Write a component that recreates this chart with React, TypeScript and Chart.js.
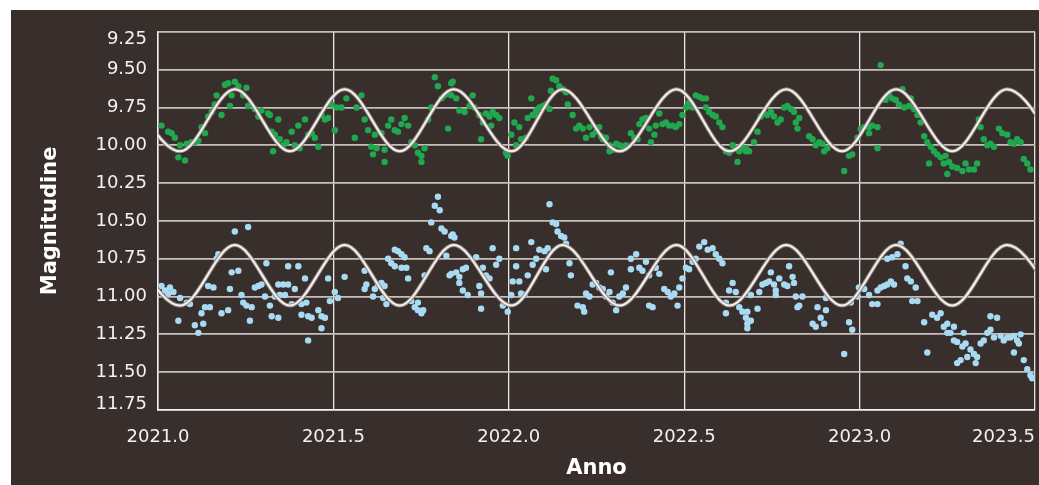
import React, { useEffect, useRef } from 'react';
import { Chart, registerables } from 'chart.js';

Chart.register(...registerables);

const xTickValues = [2021.0, 2021.5, 2022.0, 2022.5, 2023.0, 2023.5];
const yTickValues = [9.25, 9.5, 9.75, 10.0, 10.25, 10.5, 10.75, 11.0, 11.25, 11.5, 11.75];

const waveYear = [2020.906, 2021.063, 2021.219, 2021.376, 2021.532, 2021.689, 2021.843, 2022.008, 2022.153,
  2022.316, 2022.478, 2022.629, 2022.791, 2022.950, 2023.104, 2023.264, 2023.420, 2023.577];
const greenWave = [9.63, 10.04, 9.63, 10.04, 9.63, 10.04, 9.63, 10.04, 9.63, 10.04, 9.63, 10.04, 9.63, 10.04, 9.63, 10.04, 9.63, 10.04];
const blueWave = [10.66, 11.06, 10.66, 11.06, 10.66, 11.06, 10.66, 11.06, 10.66, 11.06, 10.66, 11.06, 10.66, 11.06, 10.66, 11.06, 10.66, 11.06];

const greenYear = [
  2021.010, 2021.029, 2021.039, 2021.048, 2021.063, 2021.082, 2021.096, 2021.105, 2021.115, 2021.058,
  2021.077, 2021.124, 2021.134, 2021.143, 2021.153, 2021.162, 2021.167, 2021.181, 2021.191, 2021.200,
  2021.219, 2021.229, 2021.252, 2021.210, 2021.205, 2021.243, 2021.257, 2021.276, 2021.286, 2021.295,
  2021.314, 2021.319, 2021.343, 2021.324, 2021.333, 2021.347, 2021.357, 2021.366, 2021.381, 2021.390,
  2021.404, 2021.328, 2021.400, 2021.419, 2021.428, 2021.438, 2021.447, 2021.457, 2021.466, 2021.476,
  2021.485, 2021.494, 2021.509, 2021.523, 2021.504, 2021.537, 2021.561, 2021.566, 2021.580, 2021.589,
  2021.599, 2021.618, 2021.637, 2021.608, 2021.623, 2021.646, 2021.613, 2021.646, 2021.656, 2021.665,
  2021.675, 2021.684, 2021.694, 2021.703, 2021.713, 2021.722, 2021.732, 2021.741, 2021.751, 2021.760,
  2021.751, 2021.770, 2021.779, 2021.789, 2021.798, 2021.808, 2021.817, 2021.827, 2021.836, 2021.827,
  2021.840, 2021.836, 2021.850, 2021.859, 2021.874, 2021.888, 2021.897, 2021.902, 2021.916, 2021.926,
  2021.935, 2021.945, 2021.954, 2021.964, 2021.973, 2021.950, 2021.921, 2021.992, 2021.997, 2022.007,
  2022.016, 2022.030, 2022.021, 2022.035, 2022.049, 2022.054, 2022.064, 2022.068, 2022.078, 2022.087,
  2022.097, 2022.106, 2022.116, 2022.083, 2022.120, 2022.125, 2022.135, 2022.144, 2022.154, 2022.163,
  2022.168, 2022.182, 2022.192, 2022.201, 2022.211, 2022.220, 2022.230, 2022.239, 2022.249, 2022.258,
  2022.263, 2022.268, 2022.277, 2022.287, 2022.296, 2022.306, 2022.315, 2022.325, 2022.334, 2022.348,
  2022.358, 2022.367, 2022.372, 2022.381, 2022.391, 2022.400, 2022.405, 2022.415, 2022.419, 2022.429,
  2022.438, 2022.448, 2022.457, 2022.467, 2022.476, 2022.486, 2022.495, 2022.505, 2022.514, 2022.524,
  2022.533, 2022.543, 2022.552, 2022.562, 2022.562, 2022.571, 2022.581, 2022.590, 2022.600, 2022.609,
  2022.619, 2022.628, 2022.638, 2022.647, 2022.657, 2022.666, 2022.676, 2022.652, 2022.287,
  2022.676, 2022.685, 2022.699, 2022.709, 2022.718, 2022.728, 2022.737, 2022.747, 2022.756, 2022.766,
  2022.775, 2022.785, 2022.794, 2022.804, 2022.813, 2022.818, 2022.828, 2022.823, 2022.856, 2022.866,
  2022.875, 2022.885, 2022.894, 2022.899, 2022.908, 2022.956, 2022.970, 2022.979, 2022.994, 2023.003,
  2023.013, 2023.027, 2023.036, 2023.051, 2023.027, 2023.051, 2023.060, 2023.074, 2023.084, 2023.093,
  2023.103, 2023.112, 2023.122, 2023.127, 2023.141, 2023.146, 2023.155, 2023.165, 2023.174, 2023.184,
  2023.193, 2023.203, 2023.212, 2023.221, 2023.231, 2023.245, 2023.240, 2023.255, 2023.264, 2023.278,
  2023.293, 2023.302, 2023.312, 2023.326, 2023.335, 2023.250, 2023.198, 2023.340, 2023.345, 2023.354,
  2023.364, 2023.373, 2023.383, 2023.397, 2023.407, 2023.421, 2023.430, 2023.440, 2023.449, 2023.459,
  2023.468, 2023.478, 2023.487,
];
const greenMag = [
  9.87, 9.91, 9.92, 9.95, 10.00, 9.99, 9.98, 9.98, 9.97, 10.08,
  10.10, 9.88, 9.92, 9.81, 9.78, 9.73, 9.67, 9.80, 9.60, 9.59,
  9.58, 9.61, 9.62, 9.67, 9.74, 9.67, 9.74, 9.76, 9.81, 9.77,
  9.79, 9.80, 9.83, 9.91, 9.93, 9.96, 10.00, 9.98, 9.91, 10.00,
  10.02, 10.04, 9.87, 9.83, 9.93, 9.92, 9.95, 10.01, 9.80, 9.83,
  9.82, 9.73, 9.75, 9.75, 9.90, 9.69, 9.95, 9.75, 9.67, 9.83,
  9.90, 9.93, 9.92, 10.01, 10.02, 10.03, 10.06, 10.11, 9.87, 9.83,
  9.90, 9.91, 9.86, 9.82, 9.87, 9.98, 10.00, 10.05, 10.07, 10.02,
  10.11, 9.83, 9.75, 9.55, 9.61, 9.69, 9.67, 9.66, 9.59, 9.89,
  9.58, 9.67, 9.69, 9.77, 9.78, 9.74, 9.67, 9.75, 9.80, 9.85,
  9.79, 9.81, 9.78, 9.80, 9.82, 9.87, 9.96, 10.05, 10.07, 9.93,
  9.85, 9.88, 10.00, 9.96, 9.95, 9.82, 9.69, 9.80, 9.77, 9.75,
  9.74, 9.73, 9.76, 9.81, 9.64, 9.56, 9.57, 9.61, 9.63, 9.65,
  9.73, 9.80, 9.89, 9.87, 9.89, 9.95, 9.88, 9.93, 9.91, 9.88,
  9.94, 9.96, 9.95, 10.00, 10.03, 9.99, 10.00, 10.01, 10.00, 9.92,
  9.95, 9.96, 9.86, 9.83, 9.82, 9.89, 9.98, 9.93, 9.87, 9.79,
  9.86, 9.85, 9.87, 9.87, 9.88, 9.86, 9.80, 9.75, 9.72, 9.75,
  9.67, 9.68, 9.69, 9.69, 9.75, 9.78, 9.80, 9.81, 9.85, 9.88,
  10.04, 10.05, 10.00, 10.02, 10.04, 10.02, 10.04, 10.11, 10.04,
  10.02, 10.04, 9.98, 9.91, 9.81, 9.79, 9.80, 9.78, 9.81, 9.85,
  9.83, 9.75, 9.74, 9.76, 9.78, 9.85, 9.82, 9.89, 9.94, 9.96,
  10.00, 9.98, 9.99, 10.04, 10.02, 10.17, 10.07, 10.06, 9.95, 9.89,
  9.88, 9.88, 9.87, 9.88, 9.92, 10.02, 9.47, 9.70, 9.67, 9.69,
  9.70, 9.73, 9.63, 9.75, 9.74, 9.69, 9.76, 9.80, 9.85, 9.94,
  9.98, 10.01, 10.04, 10.06, 10.08, 10.07, 10.12, 10.11, 10.14, 10.15,
  10.17, 10.12, 10.16, 10.16, 10.12, 10.19, 10.12, 9.83, 9.88, 9.96,
  10.00, 9.99, 10.01, 9.89, 9.92, 9.93, 9.98, 9.99, 9.96, 9.98,
  10.09, 10.12, 10.16,
];

const blueYear = [
  2021.010, 2021.020, 2021.034, 2021.044, 2021.029, 2021.063, 2021.082, 2021.091, 2021.058, 2021.105,
  2021.115, 2021.129, 2021.124, 2021.134, 2021.148, 2021.143, 2021.158, 2021.167, 2021.172, 2021.181,
  2021.200, 2021.205, 2021.210, 2021.229, 2021.219, 2021.257, 2021.238, 2021.243, 2021.252, 2021.267,
  2021.262, 2021.276, 2021.286, 2021.295, 2021.309, 2021.305, 2021.319, 2021.324, 2021.343, 2021.333,
  2021.347, 2021.362, 2021.343, 2021.357, 2021.371, 2021.371, 2021.400, 2021.381, 2021.390, 2021.409,
  2021.419, 2021.423, 2021.409, 2021.428, 2021.438, 2021.457, 2021.466, 2021.476, 2021.466, 2021.428,
  2021.485, 2021.490, 2021.504, 2021.513, 2021.532, 2021.589, 2021.594, 2021.589, 2021.613, 2021.618,
  2021.627, 2021.637, 2021.646, 2021.642, 2021.651, 2021.656, 2021.665, 2021.675, 2021.684, 2021.694,
  2021.703, 2021.675, 2021.708, 2021.694, 2021.713, 2021.722, 2021.732, 2021.741, 2021.751, 2021.741,
  2021.756, 2021.760, 2021.765, 2021.774, 2021.779, 2021.789, 2021.798, 2021.803, 2021.808, 2021.817,
  2021.822, 2021.836, 2021.831,
  2021.840, 2021.845, 2021.836, 2021.850, 2021.859, 2021.869, 2021.878, 2021.859, 2021.869, 2021.883,
  2021.907, 2021.916, 2021.921, 2021.926, 2021.921, 2021.935, 2021.945, 2021.954, 2021.964, 2021.973,
  2021.983, 2021.997, 2022.007, 2022.011, 2022.021, 2022.021, 2022.030, 2022.035, 2022.045, 2022.054,
  2022.064, 2022.068, 2022.078, 2022.087, 2022.102, 2022.106, 2022.111, 2022.116, 2022.125, 2022.135,
  2022.139, 2022.149, 2022.158, 2022.163, 2022.173, 2022.177, 2022.196, 2022.211, 2022.215, 2022.220,
  2022.230, 2022.239, 2022.249, 2022.258, 2022.268, 2022.277, 2022.287, 2022.291, 2022.296, 2022.306,
  2022.315, 2022.325, 2022.334, 2022.348, 2022.348, 2022.363, 2022.372, 2022.381, 2022.391, 2022.400,
  2022.400, 2022.410, 2022.419, 2022.429, 2022.443, 2022.453, 2022.462, 2022.472, 2022.481, 2022.486,
  2022.495, 2022.505, 2022.514, 2022.524, 2022.533, 2022.543, 2022.557, 2022.567, 2022.581, 2022.590,
  2022.600, 2022.609, 2022.619, 2022.628, 2022.638, 2022.647, 2022.657, 2022.666, 2022.676, 2022.680,
  2022.619,
  2022.680, 2022.690, 2022.680, 2022.690, 2022.709, 2022.714, 2022.723, 2022.733, 2022.742, 2022.747,
  2022.756, 2022.761, 2022.771, 2022.761, 2022.785, 2022.794, 2022.799, 2022.809, 2022.813, 2022.818,
  2022.828, 2022.837, 2022.823, 2022.866, 2022.875, 2022.880, 2022.889, 2022.899, 2022.904, 2022.904,
  2022.956, 2022.970, 2022.979, 2022.975, 2022.994, 2022.998, 2023.013, 2023.027, 2023.036, 2023.051,
  2023.051, 2023.060, 2023.070, 2023.079, 2023.089, 2023.098, 2023.079, 2023.093, 2023.108, 2023.117,
  2023.131, 2023.136, 2023.146, 2023.160, 2023.150, 2023.165, 2023.184, 2023.193, 2023.207, 2023.221,
  2023.231, 2023.240, 2023.250, 2023.259, 2023.269, 2023.278, 2023.293, 2023.302, 2023.316, 2023.326,
  2023.288, 2023.278, 2023.307, 2023.331, 2023.335, 2023.345, 2023.354, 2023.364, 2023.373, 2023.383,
  2023.373, 2023.392, 2023.402, 2023.411, 2023.421, 2023.430, 2023.440, 2023.449, 2023.454, 2023.459,
  2023.440, 2023.468, 2023.478, 2023.487, 2023.492, 2023.269, 2023.250, 2023.297,
];
const blueMag = [
  10.93, 10.96, 10.94, 10.97, 10.98, 11.01, 11.04, 11.05, 11.16, 11.19,
  11.24, 11.18, 11.11, 11.07, 11.07, 10.93, 10.94, 10.75, 10.72, 11.11,
  11.09, 10.95, 10.84, 10.83, 10.57, 10.54, 10.99, 11.04, 11.06, 11.07,
  11.16, 10.94, 10.93, 10.92, 10.78, 11.00, 11.06, 11.13, 11.14, 11.00,
  10.99, 10.99, 10.92, 10.92, 10.92, 10.80, 10.80, 11.05, 10.95, 11.05,
  10.88, 11.04, 11.12, 11.13, 11.14, 11.09, 11.13, 11.14, 11.21, 11.29,
  10.88, 11.03, 10.97, 11.01, 10.87, 10.83, 10.92, 10.95, 11.00, 10.95,
  10.92, 10.91, 10.93, 11.01, 11.05, 10.75, 10.78, 10.80, 10.70, 10.72,
  10.74, 10.69, 10.81, 10.81, 10.88, 11.03, 11.07, 11.09, 11.11, 11.04,
  11.09, 10.86, 10.68, 10.70, 10.51, 10.40, 10.34, 10.43, 10.55, 10.57,
  10.73, 10.60, 10.86,
  10.59, 10.61, 10.85, 10.84, 10.87, 10.82, 10.81, 10.91, 10.96, 10.99,
  10.74, 10.93, 10.98, 10.81, 11.08, 10.86, 10.88, 10.68, 10.79, 10.75,
  11.06, 11.10, 10.99, 10.90, 10.80, 10.68, 10.90, 10.98, 10.99, 10.86,
  10.64, 10.79, 10.75, 10.69, 10.70, 10.82, 10.68, 10.39, 10.51, 10.52,
  10.57, 10.60, 10.61, 10.65, 10.78, 10.86, 11.06, 11.07, 11.10, 10.98,
  11.00, 10.92, 10.91, 10.94, 10.95, 11.00, 10.97, 10.84, 11.04, 11.09,
  11.00, 10.98, 10.94, 10.75, 10.82, 10.72, 10.81, 10.83, 10.77, 10.86,
  11.06, 11.07, 10.81, 10.85, 10.95, 10.97, 11.00, 10.98, 11.06, 10.94,
  10.88, 10.81, 10.82, 10.77, 10.75, 10.67, 10.64, 10.69, 10.68, 10.72,
  10.75, 10.78, 11.04, 10.96, 10.91, 10.97, 11.07, 11.10, 11.14, 11.18,
  11.11,
  11.10, 11.16, 11.21, 10.99, 11.08, 10.97, 10.92, 10.91, 10.90, 10.84,
  10.92, 10.96, 10.88, 10.99, 10.92, 10.93, 10.80, 10.87, 10.91, 11.00,
  11.06, 11.00, 11.07, 11.18, 11.20, 11.07, 11.14, 11.18, 11.09, 11.01,
  11.38, 11.17, 11.22, 11.04, 11.00, 10.94, 10.95, 10.99, 11.05, 11.05,
  10.96, 10.94, 10.93, 10.92, 10.90, 10.92, 10.75, 10.74, 10.72, 10.65,
  10.80, 10.88, 10.90, 10.94, 11.03, 11.03, 11.17, 11.37, 11.12, 11.14,
  11.11, 11.20, 11.24, 11.24, 11.29, 11.30, 11.33, 11.31, 11.35, 11.38,
  11.42, 11.44, 11.40, 11.44, 11.40, 11.31, 11.29, 11.24, 11.22, 11.27,
  11.13, 11.14, 11.26, 11.29, 11.27, 11.27, 11.26, 11.29, 11.31, 11.25,
  11.37, 11.42, 11.48, 11.52, 11.54, 11.20, 11.18, 11.24,
];

const BG = '#382f2c';
const TEXT = '#f3f1ef';

const toPoints = (xs: number[], ys: number[]) => xs.map((x, i) => ({ x, y: ys[i] }));

const labelPlacement = {
  id: 'labelPlacement',
  beforeDraw(chart: any) {
    const xs = chart.scales.x;
    const ys = chart.scales.y;
    const firstX = xTickValues[0].toFixed(1);
    const lastX = xTickValues[xTickValues.length - 1].toFixed(1);
    for (const it of xs.getLabelItems()) {
      it.options.translation[1] = xs.top + 17;
      if (it.label === firstX) it.options.textAlign = 'center';
      if (it.label === lastX) it.options.textAlign = 'right';
    }
    const firstY = yTickValues[0];
    const lastY = yTickValues[yTickValues.length - 1];
    for (const it of ys.getLabelItems()) {
      if (it.label === firstY.toFixed(2)) it.options.translation[1] = ys.getPixelForValue(firstY) + 8;
      if (it.label === lastY.toFixed(2)) it.options.translation[1] = ys.getPixelForValue(lastY) - 6;
    }
  },
};

export default function App() {
  const ref = useRef<HTMLCanvasElement>(null);

  useEffect(() => {
    const waveCommon = {
      type: 'line' as const,
      pointRadius: 0,
      fill: false,
      cubicInterpolationMode: 'monotone' as const,
    };
    const chart = new Chart(ref.current as HTMLCanvasElement, {
      type: 'scatter',
      data: {
        datasets: [
          { ...waveCommon, data: toPoints(waveYear, greenWave), borderColor: '#f4f0ee', borderWidth: 2 },
          { ...waveCommon, data: toPoints(waveYear, blueWave), borderColor: '#f4f0ee', borderWidth: 2 },
          { ...waveCommon, data: toPoints(waveYear, greenWave), borderColor: '#8f837e', borderWidth: 4 },
          { ...waveCommon, data: toPoints(waveYear, blueWave), borderColor: '#8f837e', borderWidth: 4 },
          {
            type: 'scatter',
            data: toPoints(greenYear, greenMag),
            backgroundColor: '#20a84f',
            borderWidth: 0,
            pointRadius: 3.2,
          },
          {
            type: 'scatter',
            data: toPoints(blueYear, blueMag),
            backgroundColor: '#a8dbf3',
            borderWidth: 0,
            pointRadius: 3.2,
          },
        ] as any,
      },
      options: {
        responsive: false,
        animation: false,
        events: [],
        layout: { padding: { top: 15, right: 3, left: 0, bottom: 0 } },
        plugins: { legend: { display: false }, tooltip: { enabled: false } },
        scales: {
          x: {
            type: 'linear',
            min: xTickValues[0],
            max: xTickValues[xTickValues.length - 1],
            afterBuildTicks: (s: any) => {
              s.ticks = xTickValues.map((v) => ({ value: v }));
            },
            afterFit: (s: any) => {
              s.height = 75;
            },
            grid: { color: '#e8e5e2', lineWidth: 1.3, drawTicks: false },
            border: { color: '#f2f0ee', width: 1.5 },
            ticks: {
              align: 'inner',
              autoSkip: false,
              maxRotation: 0,
              padding: 0,
              color: TEXT,
              font: { family: 'DejaVu Sans', size: 18 },
              callback: (v: any) => Number(v).toFixed(1),
            },
            title: {
              display: true,
              text: 'Anno',
              color: '#ffffff',
              font: { family: 'DejaVu Sans', size: 21, weight: 'bold' },
              padding: { top: 0, bottom: 4 },
            },
          },
          y: {
            type: 'linear',
            reverse: true,
            min: yTickValues[0],
            max: yTickValues[yTickValues.length - 1],
            afterBuildTicks: (s: any) => {
              s.ticks = yTickValues.map((v) => ({ value: v }));
            },
            afterFit: (s: any) => {
              s.width = 147;
            },
            grid: { color: '#c4bfbb', lineWidth: 1.8, drawTicks: false },
            border: { color: '#f2f0ee', width: 1.5 },
            ticks: {
              padding: 11,
              color: TEXT,
              font: { family: 'DejaVu Sans', size: 18 },
              callback: (v: any) => Number(v).toFixed(2),
            },
            title: {
              display: true,
              text: 'Magnitudine',
              color: '#ffffff',
              font: { family: 'DejaVu Sans', size: 21, weight: 'bold' },
              padding: { top: 27, bottom: 0 },
            },
          },
        },
      } as any,
      plugins: [labelPlacement],
    });
    return () => chart.destroy();
  }, []);

  return (
    <div
      style={{
        position: 'absolute',
        left: 11,
        top: 10,
        width: 1028,
        height: 475,
        background: BG,
        overflow: 'hidden',
      }}
    >
      <canvas ref={ref} width={1028} height={475} style={{ display: 'block' }} />
    </div>
  );
}
